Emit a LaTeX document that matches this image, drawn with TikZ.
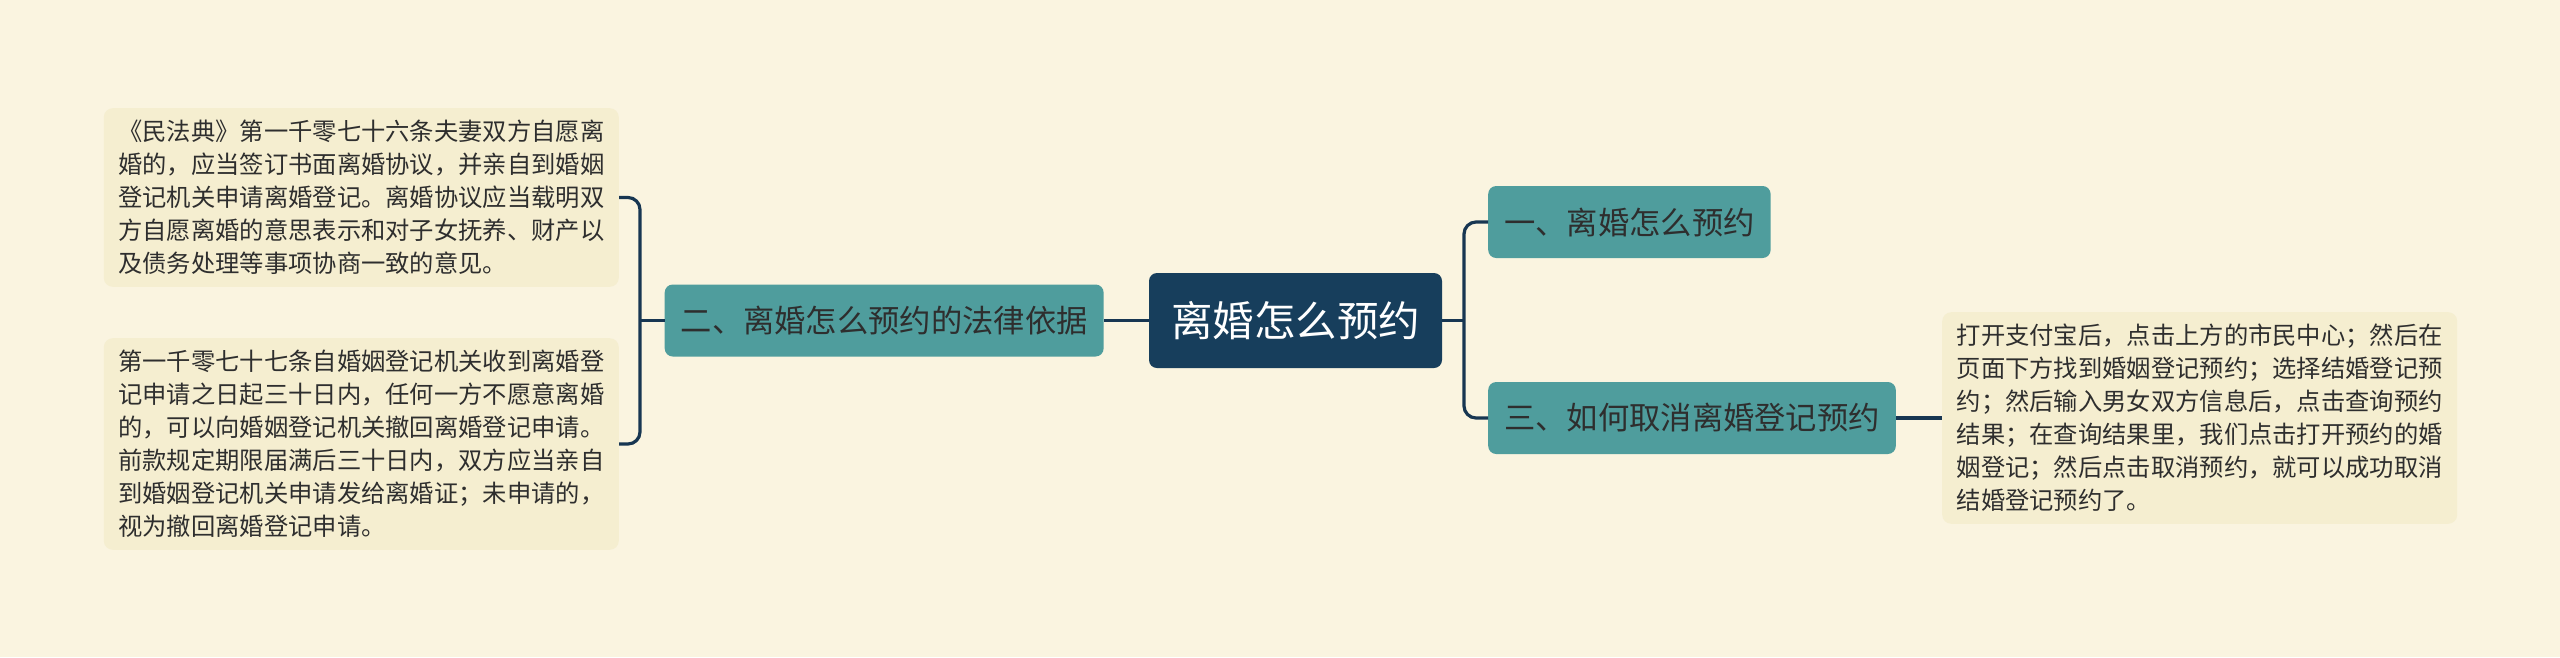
\documentclass[tikz,border=0pt]{standalone}
\usepackage{fontspec}
\setmainfont{Noto Sans CJK SC}
\usetikzlibrary{positioning}

\definecolor{bgcream}{HTML}{FAF4E0}
\definecolor{rootblue}{HTML}{173E5C}
\definecolor{branchteal}{HTML}{4F9D9D}
\definecolor{leafcream}{HTML}{F5EED0}
\definecolor{linkblue}{HTML}{173652}
\definecolor{inkgray}{HTML}{2E2E2E}

\begin{document}
\begin{tikzpicture}[x=1pt, y=-1pt,
    rootbox/.style={rectangle, fill=rootblue, rounded corners=8pt, text=white, minimum width=293pt, minimum height=95pt, inner xsep=20pt, font=\fontsize{41.5}{48}\selectfont},
    branchbox/.style={rectangle, fill=branchteal, rounded corners=8pt, text=inkgray, minimum height=72pt, inner xsep=16pt, font=\fontsize{31.3}{36}\selectfont},
    leafbox/.style={rectangle, fill=leafcream, rounded corners=9pt, text=inkgray, align=left, minimum width=515pt, inner xsep=10pt, inner ysep=12pt, font=\fontsize{24.3}{33}\selectfont},
    link/.style={draw=linkblue, line width=3.2pt}]
    \fill[bgcream] (0,0) rectangle (2560,657);

    % centre and first level
    \node [rootbox] (root) at (1295.5,320.5) {离婚怎么预约};
    \node [branchbox, left=45pt of root] (law) {二、离婚怎么预约的法律依据};
    \node [branchbox, anchor=west] (howto) at (1488,222) {一、离婚怎么预约};
    \node [branchbox, anchor=west] (cancel) at (1488,418) {三、如何取消离婚登记预约};

    % leaves
    \node [leafbox, anchor=east] (civil) at (619,197.5) {《民法典》第一千零七十六条夫妻双方自愿离\\婚的，应当签订书面离婚协议，并亲自到婚姻\\登记机关申请离婚登记。离婚协议应当载明双\\方自愿离婚的意思表示和对子女抚养、财产以\\及债务处理等事项协商一致的意见。};
    \node [leafbox, anchor=east] (cooling) at (619,444) {第一千零七十七条自婚姻登记机关收到离婚登\\记申请之日起三十日内，任何一方不愿意离婚\\的，可以向婚姻登记机关撤回离婚登记申请。\\前款规定期限届满后三十日内，双方应当亲自\\到婚姻登记机关申请发给离婚证；未申请的，\\视为撤回离婚登记申请。};
    \node [leafbox, anchor=west] (alipay) at (1942,418) {打开支付宝后，点击上方的市民中心；然后在\\页面下方找到婚姻登记预约；选择结婚登记预\\约；然后输入男女双方信息后，点击查询预约\\结果；在查询结果里，我们点击打开预约的婚\\姻登记；然后点击取消预约，就可以成功取消\\结婚登记预约了。};

    \coordinate (ljoin) at (640,320.5);
    \coordinate (rjoin) at (1464,320.5);

    \draw [link] (root.west) -- (law.east);
    \draw [link] (law.west) -- (ljoin);
    \draw [link, rounded corners=12pt] (civil.east) -| (ljoin) |- (cooling.east);
    \draw [link] (root.east) -- (rjoin);
    \draw [link, rounded corners=12pt] (howto.west) -| (rjoin) |- (cancel.west);
    \draw [link] (cancel.east) -- (alipay.west);
\end{tikzpicture}
\end{document}
